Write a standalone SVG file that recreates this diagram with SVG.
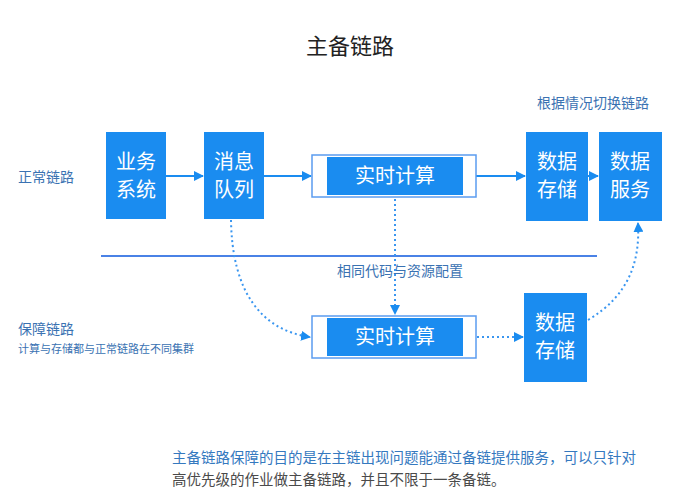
<svg xmlns="http://www.w3.org/2000/svg" width="700" height="500" viewBox="0 0 700 500">
<style>
  text { font-family: "Noto Sans CJK SC", "Noto Sans", sans-serif; }
  .box { fill: #1a8cf0; }
  .btxt { fill: #ffffff; font-size: 20px; text-anchor: middle; }
  .lbl { fill: #3a72b2; font-size: 14px; }
  .outer { fill: #ffffff; stroke: #5b9cf0; stroke-width: 1.5; }
  .solid { fill: none; stroke: #1a8cf0; stroke-width: 2; }
  .dot { fill: none; stroke: #3a96f0; stroke-width: 2; stroke-dasharray: 2 3; }
</style>
<defs>
  <marker id="arr" viewBox="0 0 10 10" refX="9" refY="5" markerWidth="5" markerHeight="5" orient="auto" markerUnits="strokeWidth">
    <path d="M0,0 L10,5 L0,10 z" fill="#1a8cf0"/>
  </marker>
</defs>
<rect width="700" height="500" fill="#ffffff"/>
<text x="350" y="54" font-size="22" fill="#222" text-anchor="middle">主备链路</text>
<text x="537" y="108" class="lbl">根据情况切换链路</text>
<text x="18" y="182" class="lbl">正常链路</text>
<text x="18" y="334" class="lbl">保障链路</text>
<text x="18" y="353" font-size="11" fill="#3a72b2">计算与存储都与正常链路在不同集群</text>
<line x1="101" y1="256" x2="597" y2="256" stroke="#4a82e6" stroke-width="2"/>
<text x="400" y="276" class="lbl" text-anchor="middle">相同代码与资源配置</text>

<g id="connectors">
  <line class="solid" x1="166" y1="176" x2="203" y2="176" marker-end="url(#arr)"/>
  <line class="solid" x1="264" y1="176" x2="311" y2="176" marker-end="url(#arr)"/>
  <line class="solid" x1="476" y1="176" x2="525" y2="176" marker-end="url(#arr)"/>
  <line class="solid" x1="588" y1="176" x2="598" y2="176" marker-end="url(#arr)"/>
  <line class="dot" x1="395" y1="199" x2="395" y2="314" marker-end="url(#arr)"/>
  <path class="dot" d="M231,220 C232,290 260,330 310,337" marker-end="url(#arr)"/>
  <line class="dot" x1="477" y1="337" x2="523" y2="337" marker-end="url(#arr)"/>
  <path class="dot" d="M588,320 C630,295 640,260 638,223" marker-end="url(#arr)"/>
</g>

<g id="n1"><rect class="box" x="106" y="132" width="60" height="87"/>
<text class="btxt" x="136" y="169">业务</text><text class="btxt" x="136" y="197">系统</text></g>
<g id="n2"><rect class="box" x="204" y="132" width="60" height="87"/>
<text class="btxt" x="234" y="169">消息</text><text class="btxt" x="234" y="197">队列</text></g>
<g id="n3"><rect class="outer" x="312" y="155" width="164" height="42"/>
<rect class="box" x="327" y="157" width="136" height="38"/>
<text class="btxt" x="395" y="183">实时计算</text></g>
<g id="n4"><rect class="box" x="526" y="132" width="62" height="89"/>
<text class="btxt" x="557" y="169">数据</text><text class="btxt" x="557" y="197">存储</text></g>
<g id="n5"><rect class="box" x="599" y="132" width="63" height="89"/>
<text class="btxt" x="630" y="169">数据</text><text class="btxt" x="630" y="197">服务</text></g>
<g id="n6"><rect class="outer" x="312" y="316" width="164" height="42"/>
<rect class="box" x="327" y="318" width="136" height="38"/>
<text class="btxt" x="395" y="344">实时计算</text></g>
<g id="n7"><rect class="box" x="524" y="293" width="63" height="89"/>
<text class="btxt" x="555" y="330">数据</text><text class="btxt" x="555" y="358">存储</text></g>

<text x="172" y="463" font-size="14.5" fill="#3579bf">主备链路保障的目的是在主链出现问题能通过备链提供服务，可以只针对</text>
<text x="172" y="485" font-size="14.5" fill="#4a4a4a">高优先级的作业做主备链路，并且不限于一条备链。</text>
</svg>
